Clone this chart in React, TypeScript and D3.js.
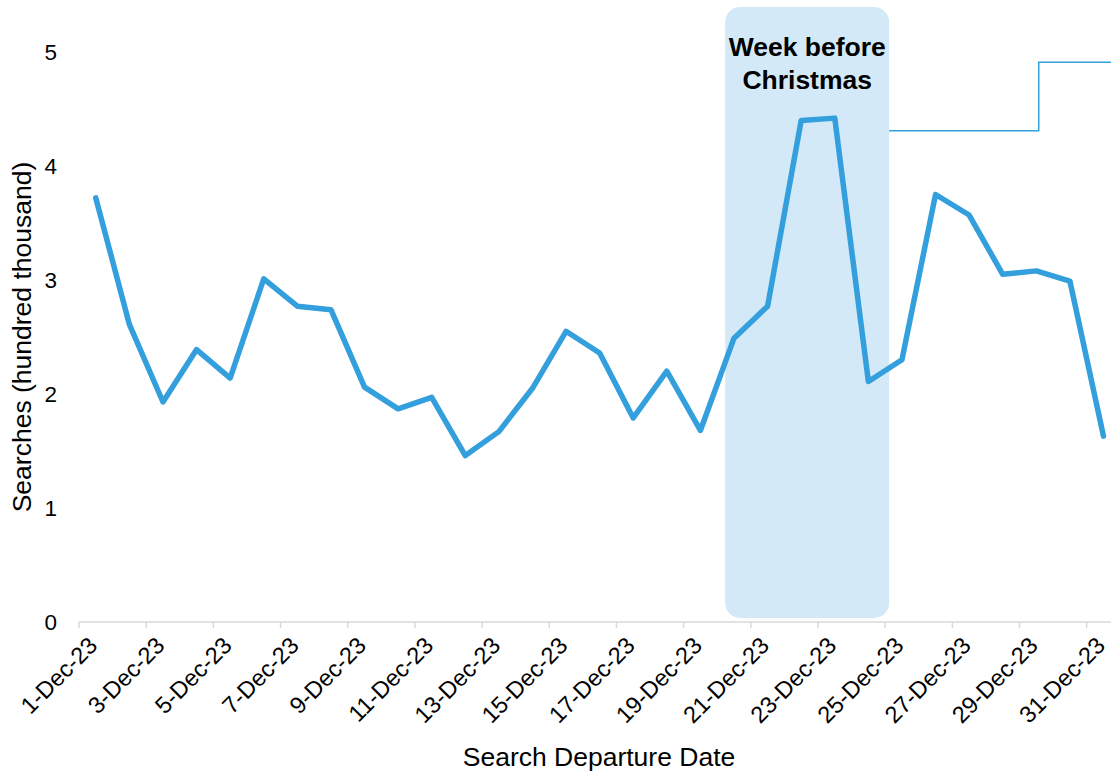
import React from "react";
import * as d3 from "d3";

const dates: string[] = Array.from({ length: 31 }, (_, i) => `${i + 1}-Dec-23`);
const searches: number[] = [
  3.72, 2.61, 1.93, 2.39, 2.14, 3.01, 2.77, 2.74, 2.06, 1.87,
  1.97, 1.46, 1.67, 2.05, 2.55, 2.36, 1.79, 2.2, 1.68, 2.49,
  2.77, 4.4, 4.42, 2.11, 2.3, 3.75, 3.57, 3.05, 3.08, 2.99, 1.63,
];
const yTicks: number[] = [0, 1, 2, 3, 4, 5];
const highlightFrom = "20-Dec-23";
const highlightTo = "24-Dec-23";
const annotationLines: string[] = ["Week before", "Christmas"];
const connectorLevels: number[] = [4.31, 4.91];
const connectorBreakDate = "29-Dec-23";

const W = 1111;
const H = 774;
const FONT = "'Liberation Sans', Arial, Helvetica, sans-serif";
const LINE = "#349fdd";

export default function App() {
  const x = d3.scaleBand<string>().domain(dates).range([79, 79 + 31 * 33.59]).padding(0);
  const y = d3.scaleLinear().domain([0, 5]).range([622, 52]);
  const bw = x.bandwidth();
  const cx = (d: string) => (x(d) as number) + bw / 2;

  const line = d3
    .line<number>()
    .x((_, i) => cx(dates[i]))
    .y((v) => y(v))
    .curve(d3.curveLinear);

  const rectL = (x(highlightFrom) as number) + 8;
  const rectR = (x(highlightTo) as number) + bw + 4;
  const rectTop = 7;
  const rectBot = 618;
  const rectCx = (rectL + rectR) / 2;

  const tickDates = dates.filter((_, i) => i % 2 === 0);
  const xBreak = cx(connectorBreakDate) + 2.4;

  return (
    <svg
      width={W}
      height={H}
      style={{ position: "absolute", left: 0, top: 0, display: "block", background: "#fff" }}
      fontFamily={FONT}
    >
      <rect
        x={rectL}
        y={rectTop}
        width={rectR - rectL}
        height={rectBot - rectTop}
        rx={15}
        ry={15}
        fill="#d4e9f7"
      />
      {annotationLines.map((t, i) => (
        <text
          key={t}
          x={rectCx}
          y={56 + i * 33}
          textAnchor="middle"
          fontWeight="bold"
          fontSize={26.5}
          fill="#000"
        >
          {t}
        </text>
      ))}
      <path
        d={`M${rectR},${y(connectorLevels[0])}H${xBreak}V${y(connectorLevels[1])}H${W + 5}`}
        fill="none"
        stroke={LINE}
        strokeWidth={1.5}
      />
      <line x1={79} x2={W + 20} y1={y(0)} y2={y(0)} stroke="#d9d9d9" strokeWidth={1.5} />
      {tickDates.map((d) => (
        <line
          key={"t" + d}
          x1={x(d) as number}
          x2={x(d) as number}
          y1={y(0)}
          y2={y(0) + 6}
          stroke="#d9d9d9"
          strokeWidth={1.5}
        />
      ))}
      {tickDates.map((d) => (
        <text
          key={"l" + d}
          transform={`translate(${cx(d) + 3},${647}) rotate(-45)`}
          textAnchor="end"
          fontSize={23.5}
          fill="#000"
        >
          {d}
        </text>
      ))}
      {yTicks.map((t) => (
        <text
          key={"y" + t}
          x={57}
          y={y(t)}
          dy="0.36em"
          textAnchor="end"
          fontSize={22.5}
          fill="#000"
        >
          {t}
        </text>
      ))}
      <text
        transform={`translate(${31},${(y(0) + y(5)) / 2}) rotate(-90)`}
        textAnchor="middle"
        fontSize={26.5}
        fill="#000"
      >
        Searches (hundred thousand)
      </text>
      <text x={599} y={766} textAnchor="middle" fontSize={26.5} fill="#000">
        Search Departure Date
      </text>
      <path
        d={line(searches) || ""}
        fill="none"
        stroke={LINE}
        strokeWidth={5.5}
        strokeLinejoin="round"
        strokeLinecap="round"
      />
    </svg>
  );
}
